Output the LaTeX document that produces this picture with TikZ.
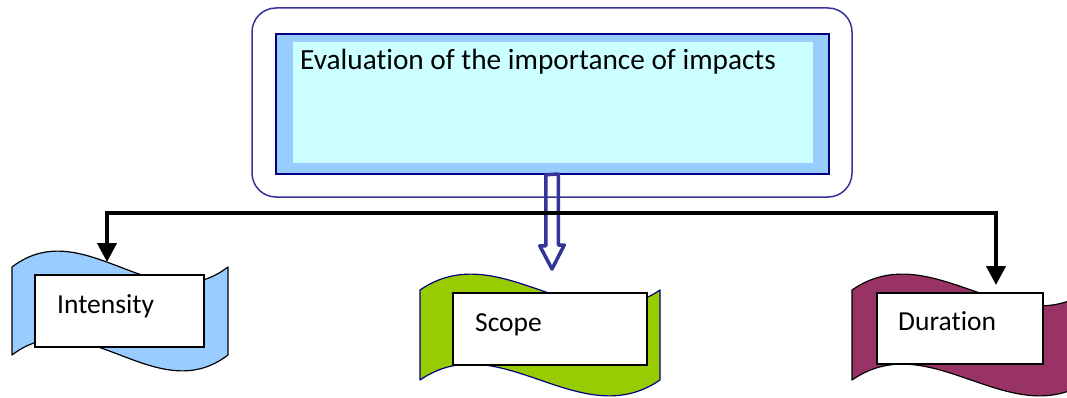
\documentclass[tikz,border=0pt]{standalone}
\usepackage{fontspec}
\setmainfont{Carlito}[Ligatures=NoCommon]
\usetikzlibrary{arrows.meta,calc}
\definecolor{frameblue}{HTML}{333399}
\definecolor{navyline}{HTML}{000080}
\definecolor{midblue}{HTML}{99CCFF}
\definecolor{palecyan}{HTML}{CCFFFF}
\definecolor{limegreen}{HTML}{99CC00}
\definecolor{plum}{HTML}{993366}
\newcommand\wavebanner[6]{% fill, draw, L, T, R, B
  \filldraw[fill=#1, draw=#2, line width=1.2pt, line join=round]
    (#3,#4) .. controls ({#3+(#5-#3)/3},{#4-55}) and ({#3+2*(#5-#3)/3},{#4+55}) .. (#5,#4)
    -- (#5,#6) .. controls ({#3+2*(#5-#3)/3},{#6+55}) and ({#3+(#5-#3)/3},{#6-55}) .. (#3,#6) -- cycle;}
\tikzset{
  whitebox/.style={draw=black, fill=white, line width=1.5pt, inner sep=0pt},
  lbl/.style={font=\fontsize{27.5}{30}\selectfont, inner sep=0pt, text=black},
  blackconn/.style={line width=4pt, draw=black, line join=miter,
    {Triangle[length=19pt,width=19pt]}-{Triangle[length=19pt,width=19pt]}},
  hollowarrow/.style={draw=frameblue, line width=3.5pt, line join=round}
}
\begin{document}
\begin{tikzpicture}[x=1pt,y=-1pt]
\useasboundingbox (0,0) rectangle (1067,398);
% top frame
\draw[frameblue, line width=1.5pt, rounded corners=24pt] (252,8) rectangle (852,197);
\node[draw=navyline, fill=midblue, line width=1.5pt, minimum width=553pt, minimum height=140pt, inner sep=0pt] (outerbox) at (552.5,104) {};
\node[fill=palecyan, minimum width=520pt, minimum height=121pt, inner sep=0pt] (evalbox) at (553,102.5) {};
\node[lbl, anchor=base west, font=\fontsize{29.3}{32}\selectfont] (evaltext) at (300,70) {Evaluation of the importance of impacts};
% banners
\wavebanner{midblue}{black}{12}{267}{228}{355}
\wavebanner{limegreen}{navyline}{420}{290}{660}{380}
\wavebanner{plum}{black}{852}{290}{1090}{380}
% boxes
\node[whitebox, minimum width=169pt, minimum height=72pt] (intbox) at (119.5,311) {};
\node[whitebox, minimum width=194pt, minimum height=72pt] (scopebox) at (550,329) {};
\node[whitebox, minimum width=166pt, minimum height=71pt] (durbox) at (960,328.5) {};
\node[lbl, anchor=base west] (inttext) at (57,313) {Intensity};
\node[lbl, anchor=base west] (scopetext) at (475,331) {Scope};
\node[lbl, anchor=base west] (durtext) at (898,330) {Duration};
% hollow blue arrow
\draw[hollowarrow] ($(outerbox.south)+(-6.75,0)$) -- ++(0,71) -- ++(-6,0) -- (552,269) -- (564.25,245) -- (558.25,245) -- (558.25,174) -- cycle;
% black connector
\coordinate (jl) at (107,213);
\coordinate (jr) at (996,213);
\coordinate (ti) at (107,262);
\coordinate (td) at (996,285);
\draw[blackconn] (ti) -- (jl) -- (jr) -- (td);
\end{tikzpicture}
\end{document}
